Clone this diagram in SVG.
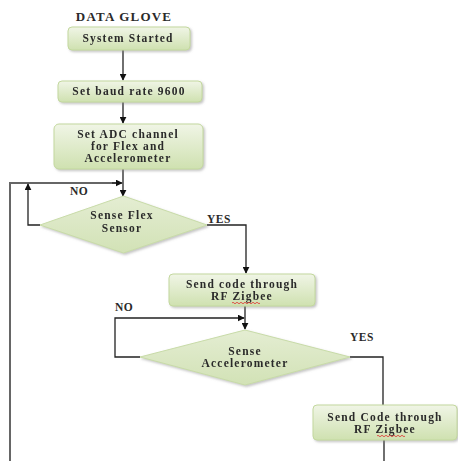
<svg xmlns="http://www.w3.org/2000/svg" width="458" height="461" viewBox="0 0 458 461">
<style>
.t{font-family:'Liberation Serif','DejaVu Serif',serif;font-weight:bold;font-size:11.5px;letter-spacing:1.2px;fill:#2a2a2a;text-anchor:middle}
.l{font-family:'Liberation Serif','DejaVu Serif',serif;font-weight:bold;font-size:11.5px;letter-spacing:0.5px;fill:#2a2a2a}
.box{fill:url(#g);stroke:#c3d89e;stroke-width:1}
.dia{fill:url(#gd);stroke:#c8dba8;stroke-width:1}
.c{fill:none;stroke:#222;stroke-width:1.3}
.cg{fill:none;stroke:#666;stroke-width:2}
.sq{fill:none;stroke:#e03030;stroke-width:0.8}
</style>
<defs>
<linearGradient id="g" x1="0" y1="0" x2="0" y2="1">
<stop offset="0" stop-color="#f0f5e6"/>
<stop offset="1" stop-color="#cfe1b0"/>
</linearGradient>
<linearGradient id="gd" x1="0" y1="0" x2="0" y2="1">
<stop offset="0" stop-color="#e4edd2"/>
<stop offset="1" stop-color="#d2e2b6"/>
</linearGradient>
<filter id="sh" x="-10%" y="-10%" width="130%" height="140%">
<feDropShadow dx="1.5" dy="1.5" stdDeviation="1" flood-color="#888" flood-opacity="0.5"/>
</filter>
<marker id="a" viewBox="0 0 10 10" refX="9" refY="5" markerWidth="7" markerHeight="7" orient="auto" markerUnits="userSpaceOnUse">
<path d="M0,0 L10,5 L0,10 z" fill="#111"/>
</marker>
</defs>
<rect width="458" height="461" fill="#fff"/>
<text x="124" y="21" class="t" style="font-size:13px;letter-spacing:1.2px">DATA GLOVE</text>

<g id="connectors">
<path class="c" d="M123,50 V80" marker-end="url(#a)"/>
<path class="c" d="M123,102 V123" marker-end="url(#a)"/>
<path class="c" d="M123,169 V196" marker-end="url(#a)"/>
<path class="cg" d="M10,461 V183 H120" />
<path class="c" d="M112,183 H122" marker-end="url(#a)"/>
<path class="c" d="M40,225 H28 V184" marker-end="url(#a)"/>
<path class="c" d="M207,225 H246 V273" marker-end="url(#a)"/>
<path class="c" d="M245,306 V329" marker-end="url(#a)"/>
<path class="c" d="M140,357 H115 V318 H244" marker-end="url(#a)"/>
<path class="c" d="M350,357 H383 V405"/>
<path class="c" d="M384,440 V461"/>
</g>

<g id="n1" filter="url(#sh)"><rect class="box" x="68" y="27" width="122" height="23" rx="4"/><text class="t" x="128" y="42">System Started</text></g>
<g id="n2" filter="url(#sh)"><rect class="box" x="58" y="81" width="144" height="21" rx="4"/><text class="t" x="129" y="95">Set baud rate 9600</text></g>
<g id="n3" filter="url(#sh)"><rect class="box" x="54" y="124" width="149" height="45" rx="5"/><text class="t" x="128" y="138">Set ADC channel</text><text class="t" x="128" y="150">for Flex and</text><text class="t" x="128" y="162">Accelerometer</text></g>
<g id="d1" filter="url(#sh)"><polygon class="dia" points="123.5,196 207,225 123.5,253 40,225"/><text class="t" x="122" y="219">Sense Flex</text><text class="t" x="122" y="232">Sensor</text></g>
<text class="l" x="70" y="195">NO</text>
<text class="l" x="207" y="223">YES</text>
<g id="n4" filter="url(#sh)"><rect class="box" x="169" y="274" width="146" height="32" rx="4"/><text class="t" x="242" y="288">Send code through</text><text class="t" x="242" y="300">RF Zigbee</text><path class="sq" d="M232,303 q1,-1.5 2,0 t2,0 t2,0 t2,0 t2,0 t2,0 t2,0 t2,0 t2,0 t2,0 t2,0 t2,0 t2,0 t2,0"/></g>
<text class="l" x="115" y="311">NO</text>
<g id="d2" filter="url(#sh)"><polygon class="dia" points="245,330 350,357 245,385 140,357"/><text class="t" x="245" y="355">Sense</text><text class="t" x="245" y="367">Accelerometer</text></g>
<text class="l" x="350" y="341">YES</text>
<g id="n5" filter="url(#sh)"><rect class="box" x="313" y="405" width="144" height="35" rx="4"/><text class="t" x="385" y="421">Send Code through</text><text class="t" x="385" y="433">RF Zigbee</text><path class="sq" d="M377,436 q1,-1.5 2,0 t2,0 t2,0 t2,0 t2,0 t2,0 t2,0 t2,0 t2,0 t2,0 t2,0 t2,0 t2,0 t2,0"/></g>
</svg>
